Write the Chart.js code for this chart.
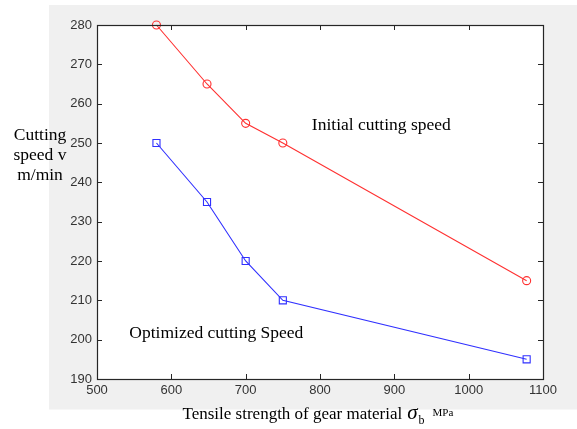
<!DOCTYPE html>
<html>
<head>
<meta charset="utf-8">
<script src="https://cdn.jsdelivr.net/npm/chart.js@4"></script>
<style>
  html, body { margin: 0; padding: 0; background: #fff; }
  #wrap { width: 577px; height: 429px; position: relative; }
</style>
</head>
<body>
<div id="wrap"><canvas id="chart" width="577" height="429"></canvas></div>
<script>
// data
const strength = [580, 648, 700, 750, 1078];
const initialSpeed = [280, 265, 255, 250, 215];
const optimizedSpeed = [250, 235, 220, 210, 195];
const xTicks = [500, 600, 700, 800, 900, 1000, 1100];
const yTicks = [190, 200, 210, 220, 230, 240, 250, 260, 270, 280];

const serif = '"Liberation Serif", "Times New Roman", serif';
const sans = '"Liberation Sans", Arial, sans-serif';

const toPoints = (xs, ys) => xs.map((x, i) => ({ x: x, y: ys[i] }));

// background panel, inward ticks, box and the free text
const matlabFrame = {
  id: 'matlabFrame',
  beforeDraw(chart) {
    const { ctx, chartArea: a } = chart;
    ctx.save();
    ctx.fillStyle = '#fff';
    ctx.fillRect(0, 0, chart.width, chart.height);
    ctx.fillStyle = '#f0f0f0';
    ctx.fillRect(49, 5, chart.width - 49, 404.5);
    ctx.fillStyle = '#fff';
    ctx.fillRect(a.left, a.top, a.right - a.left, a.bottom - a.top);
    ctx.restore();
  },
  afterDraw(chart) {
    const { ctx, chartArea: a, scales } = chart;
    const xs = scales.x, ys = scales.y;
    ctx.save();
    ctx.strokeStyle = '#262626';
    ctx.lineWidth = 1;
    ctx.beginPath();
    xTicks.forEach(v => {
      const px = Math.round(xs.getPixelForValue(v)) + 0.5;
      ctx.moveTo(px, a.bottom); ctx.lineTo(px, a.bottom - 5);
      ctx.moveTo(px, a.top); ctx.lineTo(px, a.top + 5);
    });
    yTicks.forEach(v => {
      const py = Math.round(ys.getPixelForValue(v)) + 0.5;
      ctx.moveTo(a.left, py); ctx.lineTo(a.left + 5, py);
      ctx.moveTo(a.right, py); ctx.lineTo(a.right - 5, py);
    });
    ctx.stroke();
    ctx.lineWidth = 1.2;
    ctx.strokeRect(Math.round(a.left) + 0.5, Math.round(a.top) + 0.5,
      Math.round(a.right - a.left), Math.round(a.bottom - a.top));

    // annotations
    ctx.fillStyle = '#000';
    ctx.font = '17.5px ' + serif;
    ctx.textBaseline = 'alphabetic';
    ctx.textAlign = 'left';
    ctx.fillText('Initial cutting speed', xs.getPixelForValue(789), ys.getPixelForValue(253.4));
    ctx.fillText('Optimized cutting Speed', xs.getPixelForValue(543.5), ys.getPixelForValue(200.5));

    // y title, three centred lines
    ctx.textAlign = 'center';
    ctx.fillText('Cutting', 40, 140);
    ctx.fillText('speed v', 40, 160);
    ctx.fillText('m/min', 40, 180);

    // x title with sigma_b and MPa
    ctx.textAlign = 'left';
    ctx.font = '17px ' + serif;
    const main = 'Tensile strength of gear material';
    let x = 182.5;
    ctx.fillText(main, x, 419);
    x += ctx.measureText(main).width + 5;
    ctx.font = 'italic 21px ' + serif;
    ctx.fillText('\u03c3', x, 419);
    x += ctx.measureText('\u03c3').width + 1;
    ctx.font = '12px ' + serif;
    ctx.fillText('b', x, 424);
    x += ctx.measureText('b').width + 8;
    ctx.font = '11px ' + serif;
    ctx.fillText('MPa', x, 416);
    ctx.restore();
  }
};

new Chart(document.getElementById('chart'), {
  type: 'line',
  data: {
    datasets: [
      {
        label: 'Initial cutting speed',
        data: toPoints(strength, initialSpeed),
        borderColor: '#ff3030',
        backgroundColor: 'transparent',
        borderWidth: 1.1,
        pointStyle: 'circle',
        pointRadius: 4,
        pointBorderWidth: 1.1,
        pointBorderColor: '#ff3030',
        pointBackgroundColor: 'transparent',
        tension: 0,
        clip: false
      },
      {
        label: 'Optimized cutting Speed',
        data: toPoints(strength, optimizedSpeed),
        borderColor: '#3030ff',
        backgroundColor: 'transparent',
        borderWidth: 1.1,
        pointStyle: 'rect',
        pointRadius: 5,
        pointBorderWidth: 1.1,
        pointBorderColor: '#3030ff',
        pointBackgroundColor: 'transparent',
        tension: 0,
        clip: false
      }
    ]
  },
  options: {
    responsive: false,
    animation: false,
    devicePixelRatio: 1,
    layout: { padding: { top: 25, right: 34, left: 0, bottom: 0 } },
    plugins: { legend: { display: false }, tooltip: { enabled: false } },
    scales: {
      x: {
        type: 'linear',
        min: 500,
        max: 1100,
        afterBuildTicks: (s) => { s.ticks = xTicks.map(v => ({ value: v })); },
        afterFit: (s) => { s.height = 50; },
        grid: { display: false, drawTicks: false },
        border: { display: false },
        ticks: {
          color: '#333', padding: 4, maxRotation: 0,
          font: { family: sans, size: 13 },
          callback: (v) => String(v)
        }
      },
      y: {
        min: 190,
        max: 280,
        afterBuildTicks: (s) => { s.ticks = yTicks.map(v => ({ value: v })); },
        afterFit: (s) => { s.width = 97; },
        grid: { display: false, drawTicks: false },
        border: { display: false },
        ticks: {
          color: '#333', padding: 5,
          font: { family: sans, size: 13 },
          callback: (v) => String(v)
        }
      }
    }
  },
  plugins: [matlabFrame]
});
</script>
</body>
</html>
